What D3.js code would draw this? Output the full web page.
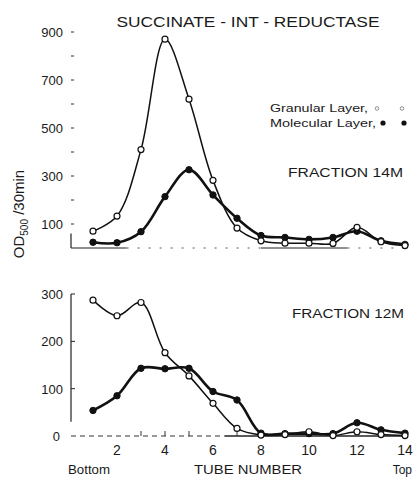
<!DOCTYPE html>
<html><head><meta charset="utf-8">
<script src="https://cdn.jsdelivr.net/npm/d3@7"></script>
<style>body{margin:0;background:#fff}svg{display:block}text{font-family:"Liberation Sans",Arial,sans-serif;fill:#1a1a1a}</style>
</head><body>
<svg id="c" width="414" height="482"></svg>
<script>
const tubes = [1,2,3,4,5,6,7,8,9,10,11,12,13,14];
const topGranular  = [70,133,410,870,620,282,83,30,20,20,19,86,26,10];
const topMolecular = [24,22,68,214,326,221,124,52,44,36,44,70,30,15];
const botGranular  = [287,254,282,176,127,69,16,2,3,9,1,9,3,1];
const botMolecular = [54,85,143,142,143,94,76,6,5,5,5,28,13,6];
const topTicks = [900,700,500,300,100];
const topMinor = [800,600,400,200];
const botTicks = [300,200,100,0];
const xTickLabels = [2,4,6,8,10,12,14];

const svg = d3.select("#c");
const x = d3.scaleLinear().domain([1,14]).range([93,405]);
const yT = d3.scaleLinear().domain([0,900]).range([248,32]);
const yB = d3.scaleLinear().domain([0,300]).range([436,294]);
const line = (ys)=>d3.line().x((d,i)=>x(tubes[i])).y(d=>ys(d)).curve(d3.curveCatmullRom.alpha(0.5));

// Title
svg.append("text").attr("x",248).attr("y",27).attr("text-anchor","middle")
  .attr("font-size",15).attr("textLength",263).attr("lengthAdjust","spacingAndGlyphs")
  .text("SUCCINATE - INT - REDUCTASE");

// Top axis
const gT = svg.append("g");
gT.selectAll(".tl").data(topTicks).join("text").attr("x",63).attr("y",d=>yT(d)+4.5)
  .attr("text-anchor","end").attr("font-size",13).text(d=>d);
gT.selectAll(".tk").data(topTicks.concat(topMinor)).join("line")
  .attr("x1",71).attr("x2",74).attr("y1",d=>yT(d)).attr("y2",d=>yT(d)).attr("stroke","#333").attr("stroke-width",1);
gT.append("line").attr("x1",71).attr("x2",71).attr("y1",yT(60)).attr("y2",yT(0)).attr("stroke","#222").attr("stroke-width",1.2);
gT.append("line").attr("x1",71).attr("x2",x(2.4)).attr("y1",yT(0)).attr("y2",yT(0)).attr("stroke","#222").attr("stroke-width",1.2);
gT.append("line").attr("x1",x(2.4)).attr("x2",x(8)).attr("y1",yT(0)).attr("y2",yT(0)).attr("stroke","#555").attr("stroke-width",1).attr("stroke-dasharray","2,9");
gT.append("line").attr("x1",x(8)).attr("x2",x(11.6)).attr("y1",yT(0)).attr("y2",yT(0)).attr("stroke","#222").attr("stroke-width",1.2);
gT.append("line").attr("x1",x(11.6)).attr("x2",x(14)).attr("y1",yT(0)).attr("y2",yT(0)).attr("stroke","#555").attr("stroke-width",1).attr("stroke-dasharray","2,9");

// Bottom axis
const gB = svg.append("g");
gB.selectAll(".tl").data(botTicks).join("text").attr("x",d=>d===0?60:63).attr("y",d=>yB(d)+5)
  .attr("text-anchor","end").attr("font-size",13).text(d=>d);
gB.append("line").attr("x1",71).attr("x2",71).attr("y1",yB(300)).attr("y2",yB(30)).attr("stroke","#222").attr("stroke-width",1.2);
gB.selectAll(".tk").data([300,200,100]).join("line")
  .attr("x1",71).attr("x2",75).attr("y1",d=>yB(d)).attr("y2",d=>yB(d)).attr("stroke","#222").attr("stroke-width",1);
gB.append("line").attr("x1",71).attr("x2",x(6.5)).attr("y1",yB(0)).attr("y2",yB(0)).attr("stroke","#333").attr("stroke-width",1).attr("stroke-dasharray","5,4");
gB.append("line").attr("x1",x(6.5)).attr("x2",x(14)).attr("y1",yB(0)).attr("y2",yB(0)).attr("stroke","#222").attr("stroke-width",1.3);
gB.selectAll(".xt").data([3,4,5,7]).join("line")
  .attr("x1",d=>x(d)).attr("x2",d=>x(d)).attr("y1",yB(0)).attr("y2",yB(0)-5).attr("stroke","#333").attr("stroke-width",1);
gB.selectAll(".xl").data(xTickLabels).join("text").attr("x",d=>x(d)).attr("y",455)
  .attr("text-anchor","middle").attr("font-size",14).text(d=>d);
svg.append("text").attr("x",68).attr("y",474).attr("font-size",12).attr("textLength",42).attr("lengthAdjust","spacingAndGlyphs").text("Bottom");
svg.append("text").attr("x",194).attr("y",474).attr("font-size",12).attr("textLength",108).attr("lengthAdjust","spacingAndGlyphs").text("TUBE  NUMBER");
svg.append("text").attr("x",412).attr("y",474).attr("text-anchor","end").attr("font-size",12).text("Top");

// Y label
const yl = svg.append("text").attr("transform","translate(24,214) rotate(-90)").attr("text-anchor","middle").attr("font-size",15);
yl.append("tspan").text("OD");
yl.append("tspan").attr("font-size",10).attr("dy",4).text("500");
yl.append("tspan").attr("dy",-4).text(" /30min");

// Legend
svg.append("text").attr("x",270).attr("y",112).attr("font-size",11.5).attr("textLength",98).attr("lengthAdjust","spacingAndGlyphs").text("Granular Layer,");
svg.append("text").attr("x",270).attr("y",127).attr("font-size",11.5).attr("textLength",106).attr("lengthAdjust","spacingAndGlyphs").text("Molecular Layer,");
svg.selectAll(".lg").data([377,402]).join("circle").attr("cx",d=>d).attr("cy",108.5).attr("r",1.8).attr("fill","#fff").attr("stroke","#777").attr("stroke-width",0.8);
svg.selectAll(".lm").data([383,404]).join("circle").attr("cx",d=>d).attr("cy",123).attr("r",2.6).attr("fill","#111");

svg.append("text").attr("x",288).attr("y",177).attr("font-size",12.5).attr("textLength",115).attr("lengthAdjust","spacingAndGlyphs").text("FRACTION  14M");
svg.append("text").attr("x",292).attr("y",318).attr("font-size",12.5).attr("textLength",112).attr("lengthAdjust","spacingAndGlyphs").text("FRACTION  12M");

function series(ys, vals, filled){
  svg.append("path").attr("d",line(ys)(vals)).attr("fill","none").attr("stroke","#111")
    .attr("stroke-width",filled?2.6:1.5).attr("stroke-linejoin","round");
  svg.append("g").selectAll("circle").data(vals).join("circle")
    .attr("cx",(d,i)=>x(tubes[i])).attr("cy",d=>ys(d)).attr("r",filled?3.2:3)
    .attr("fill",filled?"#111":"#fff").attr("stroke","#111").attr("stroke-width",filled?1:1.2);
}
series(yT, topMolecular, true);
series(yT, topGranular, false);
series(yB, botMolecular, true);
series(yB, botGranular, false);
</script>
</body></html>
